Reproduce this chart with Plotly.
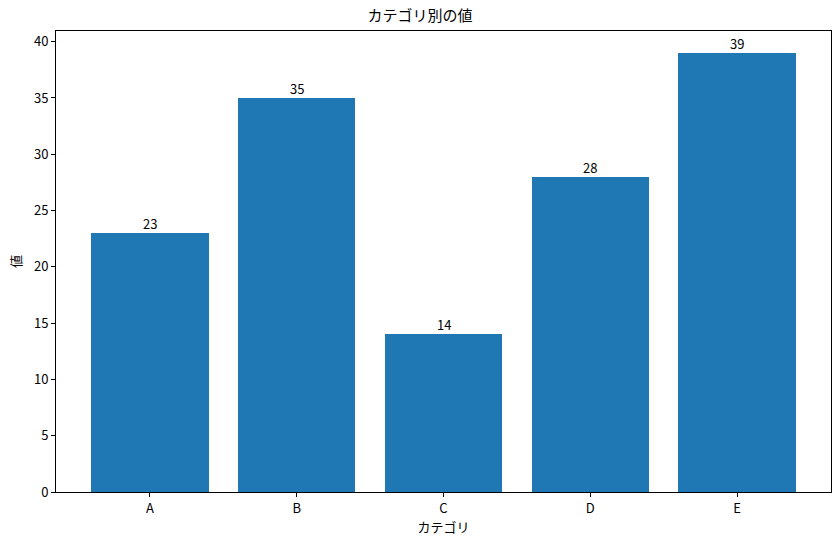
import plotly.graph_objects as go

categories = ['A', 'B', 'C', 'D', 'E']
values = [23, 35, 14, 28, 39]

FONT = 'Noto Sans CJK JP, DejaVu Sans, sans-serif'

fig = go.Figure()
fig.add_trace(go.Bar(
    x=list(range(len(categories))),
    y=values,
    width=0.8,
    marker=dict(color='#1f77b4', line=dict(width=0)),
    hoverinfo='x+y',
))

# value labels sitting right on top of each bar
for i, v in enumerate(values):
    fig.add_annotation(x=i, y=v, text=str(v), showarrow=False,
                       xanchor='center', yanchor='bottom', yshift=-2,
                       font=dict(size=13, color='black'))

fig.update_layout(
    width=840, height=544,
    margin=dict(l=56, r=9, t=31, b=52, autoexpand=False),
    paper_bgcolor='white',
    plot_bgcolor='white',
    font=dict(family=FONT, size=13, color='black'),
    title=dict(text='カテゴリ別の値', x=0.5, xanchor='center', y=0.9706, yanchor='middle',
               font=dict(size=15, color='black')),
    showlegend=False,
    bargap=0,
)

fig.update_xaxes(
    range=[-0.64, 4.64],
    tickvals=list(range(len(categories))),
    ticktext=categories,
    ticks='outside', ticklen=4, tickcolor='black',
    showline=True, linecolor='black', linewidth=1, mirror=True,
    showgrid=False, zeroline=False, automargin=False,
    title=dict(text='カテゴリ', standoff=7, font=dict(size=13)),
)
fig.update_yaxes(
    range=[0, 40.95],
    tickvals=[0, 5, 10, 15, 20, 25, 30, 35, 40],
    ticks='outside', ticklen=4, tickcolor='black',
    showline=True, linecolor='black', linewidth=1, mirror=True,
    showgrid=False, zeroline=False, automargin=False,
    title=dict(text='値', standoff=9, font=dict(size=13)),
)

# browser default body margin would shift the whole figure
fig.write_html("out.html", config={'displayModeBar': False},
               post_script="document.body.style.margin='0';")
